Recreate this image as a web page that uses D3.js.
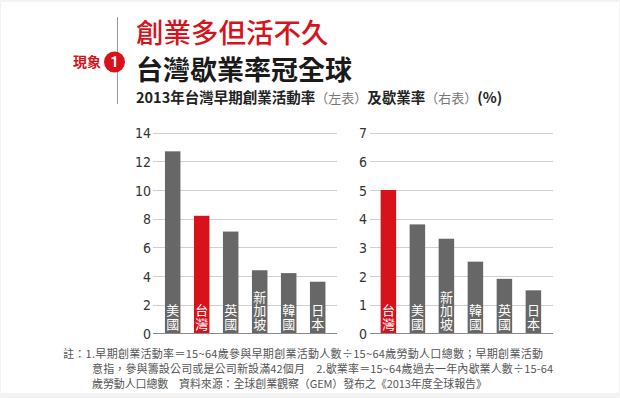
<!DOCTYPE html>
<html><head><meta charset="utf-8">
<script src="https://cdn.jsdelivr.net/npm/d3@7"></script>
<style>
html,body{margin:0;padding:0;background:#f3f3f3;}
svg{display:block;}
.cjk{font-family:"Noto Sans CJK TC","Noto Sans CJK SC",sans-serif;}
</style></head>
<body>
<svg id="c" width="620" height="398"></svg>
<script>
const leftCategories = ["美國","台灣","英國","新加坡","韓國","日本"];
const leftValues = [12.7, 8.2, 7.1, 4.4, 4.2, 3.6];
const leftTicks = [0,2,4,6,8,10,12,14];
const rightCategories = ["台灣","美國","新加坡","韓國","英國","日本"];
const rightValues = [5.0, 3.8, 3.3, 2.5, 1.9, 1.5];
const rightTicks = [0,1,2,3,4,5,6,7];
const highlight = "台灣";
const titleRed = "創業多但活不久";
const titleBlack = "台灣歇業率冠全球";
const notes = [
  "註：1.早期創業活動率＝15~64歲參與早期創業活動人數÷15~64歲勞動人口總數；早期創業活動",
  "意指，參與籌設公司或是公司新設滿42個月　2.歇業率＝15~64歲過去一年內歇業人數÷15-64",
  "歲勞動人口總數　資料來源：全球創業觀察（GEM）發布之《2013年度全球報告》"
];

const RED = "#d7121b", GRAY = "#676767";
const svg = d3.select("#c");
svg.append("rect").attr("x",1).attr("y",2).attr("width",618).attr("height",391).attr("fill","#fff");

// header
svg.append("line").attr("x1",117.5).attr("x2",117.5).attr("y1",17).attr("y2",104).attr("stroke","#9a9a9a").attr("stroke-width",1);
svg.append("text").attr("class","cjk").attr("x",73).attr("y",67).attr("font-size",14).attr("font-weight",700).attr("fill",RED).text("現象");
svg.append("circle").attr("cx",114.5).attr("cy",62).attr("r",10.5).attr("fill",RED);
svg.append("text").attr("x",114.5).attr("y",67).attr("text-anchor","middle").attr("font-family","Roboto, sans-serif").attr("font-size",14).attr("font-weight",700).attr("fill","#fff").text("1");
svg.append("text").attr("class","cjk").attr("x",136).attr("y",43).attr("font-size",27.5).attr("font-weight",500).attr("fill",RED).text(titleRed);
svg.append("text").attr("class","cjk").attr("x",136).attr("y",80).attr("font-size",27).attr("font-weight",700).attr("fill","#1a1a1a").text(titleBlack);
const sub = svg.append("text").attr("class","cjk").attr("x",136).attr("y",103).attr("font-size",14.5).attr("font-weight",700).attr("fill","#222");
sub.append("tspan").text("2013年台灣早期創業活動率");
sub.append("tspan").attr("font-weight",400).attr("fill","#777").attr("font-size",13).text("（左表）");
sub.append("tspan").text("及歇業率");
sub.append("tspan").attr("font-weight",400).attr("fill","#777").attr("font-size",13).text("（右表）");
sub.append("tspan").text("(%)");

function panel(cats, vals, ticks, gx0, gx1, bx0, labelX) {
  const y = d3.scaleLinear().domain([0, d3.max(ticks)]).range([333.3, 132.7]);
  const x = d3.scaleBand().domain(cats).range([bx0, bx0 + 174]).paddingInner(0.466).paddingOuter(0.233);
  const g = svg.append("g");
  g.selectAll("line.grid").data(ticks.filter(t => t > 0)).join("line")
    .attr("x1", gx0).attr("x2", gx1).attr("y1", d => Math.round(y(d)) + 0.5).attr("y2", d => Math.round(y(d)) + 0.5)
    .attr("stroke", "#d0d0d0").attr("stroke-width", 1);
  const axis = d3.axisLeft(y).tickValues(ticks).tickSize(0).tickPadding(0).tickFormat(d3.format("d"));
  const ax = g.append("g").attr("transform", `translate(${labelX},0)`).call(axis);
  ax.select(".domain").remove();
  ax.selectAll("text").attr("font-family", "'DejaVu Sans Condensed','Liberation Sans Narrow',sans-serif")
    .attr("font-size", 14).attr("fill", "#333").attr("dy", "0.36em");
  g.selectAll("rect.bar").data(cats).join("rect")
    .attr("x", d => x(d)).attr("width", x.bandwidth())
    .attr("y", (d, i) => y(vals[i])).attr("height", (d, i) => y(0) - y(vals[i]))
    .attr("fill", d => d === highlight ? RED : GRAY);
  g.append("line").attr("x1", gx0).attr("x2", gx1).attr("y1", Math.round(y(0)) + 0.5).attr("y2", Math.round(y(0)) + 0.5)
    .attr("stroke", "#8a8a8a").attr("stroke-width", 1.2);
  g.selectAll("text.lab").data(cats).join("text")
    .attr("class", "cjk lab")
    .attr("x", d => x(d) + x.bandwidth() / 2)
    .attr("y", y(0) - 2.5)
    .attr("text-anchor", "end")
    .style("writing-mode", "vertical-rl")
    .style("text-orientation", "upright")
    .attr("letter-spacing", 0.4)
    .attr("font-size", 13).attr("fill", "#fff").text(d => d);
}
panel(leftCategories, leftValues, leftTicks, 153, 337, 158.2, 151);
panel(rightCategories, rightValues, rightTicks, 370, 553, 373.9, 367);

// notes
const ny = [358, 373, 388];
const nx = [63, 92, 92];
const nw = [480, 461, 395];
notes.forEach((t, i) => {
  svg.append("text").attr("class", "cjk").attr("x", nx[i]).attr("y", ny[i])
    .attr("textLength", nw[i]).attr("lengthAdjust", "spacing")
    .attr("font-size", 11).attr("fill", "#555").text(t);
});
</script>
</body></html>
